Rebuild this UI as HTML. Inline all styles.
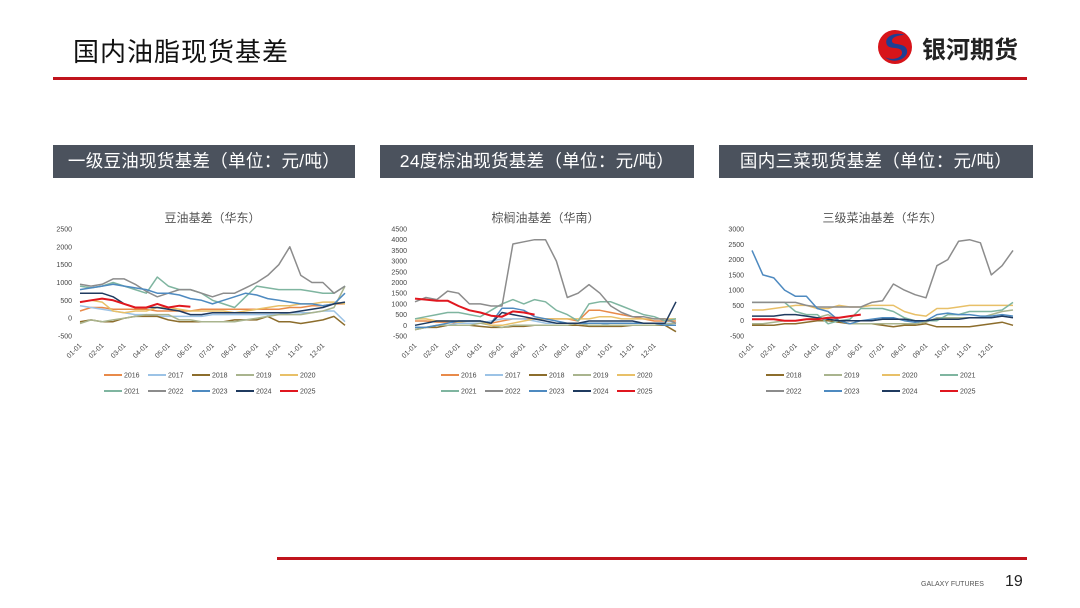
<!DOCTYPE html>
<html><head><meta charset="utf-8">
<style>
body{margin:0;width:1080px;height:608px;background:#fff;position:relative;overflow:hidden;font-family:"Liberation Sans","Noto Sans CJK SC",sans-serif}
.abs{position:absolute}
.hdr{position:absolute;top:145px;height:33px;background:#4b525d;color:#fff;font-size:17.5px;line-height:33px;text-align:center;letter-spacing:0.3px}
</style></head><body>
<div class="abs" style="left:73px;top:32px;font-size:26px;color:#111;letter-spacing:1px">国内油脂现货基差</div>
<div class="abs" style="left:875px;top:27px;width:150px;height:40px">
<svg width="40" height="40" viewBox="0 0 40 40" style="position:absolute;left:0;top:0">
<circle cx="20" cy="20" r="17" fill="#d7141a"/>
<path d="M30 8 C20 4 8 10 12 18 C15 23 26 19 27 25 C28 31 17 34 10 30 C18 38 34 32 32 23 C30 15 17 19 17 14 C17 9 26 8 30 8Z" fill="#1d3f94"/>
</svg>
<div class="abs" style="left:47px;top:3px;font-size:24px;font-weight:bold;color:#222">银河期货</div>
</div>
<div class="abs" style="left:53px;top:77px;width:974px;height:3px;background:#c0141c"></div>
<div class="hdr" style="left:53px;width:302px">一级豆油现货基差（单位：元/吨）</div>
<div class="hdr" style="left:380px;width:314px">24度棕油现货基差（单位：元/吨）</div>
<div class="hdr" style="left:719px;width:314px">国内三菜现货基差（单位：元/吨）</div>
<svg id="charts" class="abs" style="left:0;top:0" width="1080" height="608"></svg>
<div class="abs" style="left:277px;top:557px;width:750px;height:3px;background:#c0141c"></div>
<div class="abs" style="left:921px;top:581px;font-size:7px;color:#555">GALAXY FUTURES</div>
<div class="abs" style="left:1005px;top:573px;font-size:16px;color:#222">19</div>
<script>
const months=["01-01","02-01","03-01","04-01","05-01","06-01","07-01","08-01","09-01","10-01","11-01","12-01"];
const colors={"2016":"#e88a4a","2017":"#9cc3e6","2018":"#8c6d2c","2019":"#a9b48e","2020":"#e8c068","2021":"#7fb5a0","2022":"#8c8c8c","2023":"#4e8ac0","2024":"#1f3a5f","2025":"#e0171f"};
const soyYears=["2016","2017","2018","2019","2020","2021","2022","2023","2024","2025"];
const soy2016=[200,300,300,250,250,250,250,200,200,200,200,250,250,250,250,250,250,250,250,300,300,350,350,400,400];
const soy2017=[350,300,250,200,150,100,100,50,50,50,50,50,100,100,100,100,100,100,100,150,150,150,200,200,-100];
const soy2018=[-100,-50,-100,-100,0,50,50,50,-50,-100,-100,-100,-100,-100,-50,-50,-50,50,-100,-100,-150,-100,-50,50,-200];
const soy2019=[-150,-50,-100,-50,0,50,100,100,100,-50,-50,-100,-100,-100,-100,-50,0,50,100,100,100,150,200,300,900];
const soy2020=[450,500,450,200,150,200,200,300,300,250,200,200,200,200,150,200,250,300,350,350,400,400,450,450,400];
const soy2021=[900,850,900,1000,900,800,700,1150,900,800,800,700,500,400,300,600,900,850,800,800,800,750,700,700,900];
const soy2022=[950,900,950,1100,1100,950,750,600,700,800,800,700,600,700,700,850,1000,1200,1500,2000,1200,1000,1000,700,900];
const soy2023=[800,850,900,950,900,850,800,700,700,650,550,500,400,500,600,700,650,550,500,450,400,400,350,400,700];
const soy2024=[700,700,700,600,400,300,300,300,250,200,100,100,150,150,150,150,150,150,150,150,200,250,300,400,450];
const soy2025=[450,500,550,500,400,300,300,400,300,350,320];
const soyTicks=[2500,2000,1500,1000,500,0,-500];
const palm2016=[200,200,150,150,100,100,100,100,200,300,300,300,300,300,300,200,700,700,600,500,400,300,200,200,200];
const palm2017=[-100,-100,-100,0,100,100,100,200,300,300,300,200,100,100,100,100,0,0,100,100,100,100,100,100,100];
const palm2018=[-200,-100,-100,0,0,0,-50,-100,-100,-50,-50,0,0,0,0,0,-50,-50,-50,-50,0,0,0,0,-300];
const palm2019=[-200,-100,0,0,0,0,100,0,-100,0,0,0,0,0,0,100,0,0,0,0,0,0,0,50,100];
const palm2020=[300,300,200,200,150,200,200,0,0,100,200,300,300,300,300,300,300,400,400,300,300,300,300,300,300];
const palm2021=[300,400,500,600,600,500,400,700,1000,1200,1000,1200,1100,700,500,200,1000,1100,1100,900,700,500,400,200,300];
const palm2022=[1100,1300,1200,1600,1500,1000,1000,900,900,3800,3900,4000,4000,3000,1300,1500,1900,1500,900,600,400,400,300,300,100];
const palm2023=[-100,-100,0,100,200,200,200,100,800,800,700,400,300,200,100,100,100,100,100,100,100,100,100,0,0];
const palm2024=[0,100,200,200,200,200,200,100,600,500,400,300,200,100,100,100,200,200,200,200,200,100,100,100,1100];
const palm2025=[1250,1200,1150,1150,900,700,600,450,400,650,600,500];
const palmTicks=[4500,4000,3500,3000,2500,2000,1500,1000,500,0,-500];
const rapeYears=["2018","2019","2020","2021","2022","2023","2024","2025"];
const rape2018=[-150,-150,-150,-100,-100,-50,0,0,-50,-100,-100,-100,-150,-200,-150,-150,-100,-200,-200,-200,-200,-150,-100,-50,-150];
const rape2019=[-100,-100,-50,0,0,50,100,200,0,-100,-100,-100,-100,-100,-100,-100,-50,100,100,100,100,100,200,300,350];
const rape2020=[350,350,400,450,500,500,400,400,500,450,450,500,500,500,300,200,150,400,400,450,500,500,500,500,500];
const rape2021=[600,600,600,600,300,200,200,-100,0,50,400,400,400,300,100,0,0,0,200,200,300,300,300,350,600];
const rape2022=[600,600,600,600,600,500,450,450,450,450,450,600,650,1200,1000,850,750,1800,2000,2600,2650,2550,1500,1800,2300];
const rape2023=[2300,1500,1400,1000,800,800,400,300,0,-100,0,50,100,100,0,-50,0,200,250,200,200,150,150,200,150];
const rape2024=[150,150,150,200,200,150,100,50,0,0,0,0,50,50,50,0,0,50,50,50,100,100,100,150,100];
const rape2025=[50,50,50,0,0,50,50,100,100,150,200];
const rapeTicks=[3000,2500,2000,1500,1000,500,0,-500];

const NS="http://www.w3.org/2000/svg";
const svg=document.getElementById('charts');
function mk(tag,attrs,parent){const e=document.createElementNS(NS,tag);for(const k in attrs)e.setAttribute(k,attrs[k]);(parent||svg).appendChild(e);return e;}
function chart(cfg){
  const g=mk('g',{});
  
  
  const ymax=cfg.ticks[0],ymin=cfg.ticks[cfg.ticks.length-1];
  const y=v=>cfg.y0+(ymax-v)/(ymax-ymin)*(cfg.y1-cfg.y0);
  const x=i=>cfg.x0+i/24*(cfg.x1-cfg.x0);
  const t=mk('text',{x:(cfg.x0+cfg.x1)/2,y:222,'font-size':12,fill:'#555','text-anchor':'middle'},g);
  t.textContent=cfg.title;
  
  
  cfg.ticks.forEach(v=>{const tt=mk('text',{x:cfg.x0-8,y:y(v)+2.5,'font-size':7,fill:'#444','text-anchor':'end'},g);tt.textContent=v;
    
    });
  months.forEach((m,i)=>{const xx=x(i*2)+2;const tt=mk('text',{x:xx,y:cfg.y1+10,'font-size':7,fill:'#444','text-anchor':'end',transform:`rotate(-45 ${xx} ${cfg.y1+10})`},g);tt.textContent=m;
    
    });
  cfg.series.forEach((s,k)=>{
    const d=s.data.map((v,i)=>(i?'L':'M')+x(i).toFixed(1)+' '+y(v).toFixed(1)).join(' ');
    const p=mk('path',{d:d,fill:'none',stroke:colors[s.year],'stroke-width':s.year==='2025'?2:1.5,'stroke-linejoin':'round'},g);
    
    
    const row=Math.floor(k/cfg.perRow),col=k%cfg.perRow;
    const lx=cfg.lx+col*cfg.ls,ly=375+row*16;
    const lg=mk('g',{},g);
    
    
    mk('line',{x1:lx,y1:ly,x2:lx+18,y2:ly,stroke:colors[s.year],'stroke-width':2},lg);
    const lt=mk('text',{x:lx+20,y:ly+2.5,'font-size':7,fill:'#444'},lg);lt.textContent=s.year;
  });
}
chart({name:'soy-chart',title:'豆油基差（华东）',ticks:soyTicks,x0:80,x1:345,y0:229,y1:336,perRow:5,lx:104,ls:44,
  series:[soy2016,soy2017,soy2018,soy2019,soy2020,soy2021,soy2022,soy2023,soy2024,soy2025].map((d,i)=>({year:soyYears[i],data:d}))});
chart({name:'palm-chart',title:'棕榈油基差（华南）',ticks:palmTicks,x0:415,x1:676,y0:229,y1:336,perRow:5,lx:441,ls:44,
  series:[palm2016,palm2017,palm2018,palm2019,palm2020,palm2021,palm2022,palm2023,palm2024,palm2025].map((d,i)=>({year:soyYears[i],data:d}))});
chart({name:'rapeseed-chart',title:'三级菜油基差（华东）',ticks:rapeTicks,x0:752,x1:1013,y0:229,y1:336,perRow:4,lx:766,ls:58,
  series:[rape2018,rape2019,rape2020,rape2021,rape2022,rape2023,rape2024,rape2025].map((d,i)=>({year:rapeYears[i],data:d}))});
</script>
</body></html>
